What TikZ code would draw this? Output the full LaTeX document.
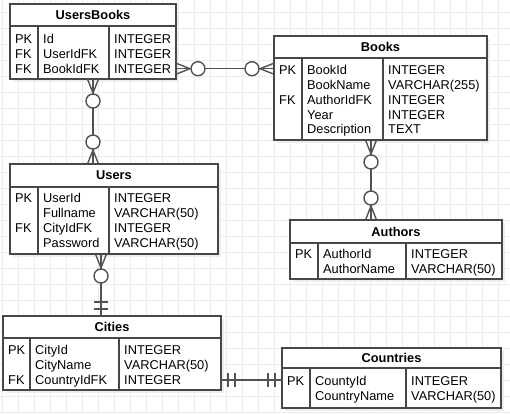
\documentclass[tikz,border=0pt]{standalone}
\usepackage{fontspec}
\setmainfont{Liberation Sans}
\usetikzlibrary{calc}

\colorlet{tblborder}{black!72}
\colorlet{gridgray}{black!8}
\colorlet{shadowgray}{black!7}

% one column of a table, one node per row
\newcommand{\fieldrows}[4]{%
  \foreach \txt [count=\i] in {#4}
    \node[cell] (#1\i) at (#2,{#3+14.9*(\i-1)}) {\txt};%
}

\tikzset{
  crowzero/.pic={
    \draw[conn] (0,-5.5) -- (14,0) -- (0,5.5);
    \draw[conn, fill=white] (22,0) circle (7);
  },
  crowbar/.pic={
    \draw[conn] (7,-7) -- (7,7) (14,-7) -- (14,7);
  }
}

\begin{document}
\begin{tikzpicture}[x=1pt,y=-1pt,
    tbl/.style={draw=tblborder, line width=1.2pt, fill=white, anchor=north west,
      inner sep=0pt, outer sep=0pt,
      preaction={fill=shadowgray, transform canvas={shift={(3pt,-3pt)}}}},
    hdr/.style={tbl, font=\fontsize{12.8}{14.9}\selectfont\bfseries},
    divider/.style={draw=tblborder, line width=1.2pt},
    cell/.style={anchor=base west, inner sep=0pt, font=\fontsize{12.8}{14.9}\selectfont},
    conn/.style={draw=black!68, line width=1.4pt},
    gridline/.style={draw=gridgray, line width=0.8pt}]

    \useasboundingbox (0,0) rectangle (510,413);

    % background grid
    \foreach \gx in {2.3,18.3,...,510}
        \draw[gridline] (\gx,0) -- (\gx,413);
    \foreach \gy in {12.3,28.3,...,413}
        \draw[gridline] (0,\gy) -- (510,\gy);

    % UsersBooks
    \node[hdr, minimum width=166, minimum height=22] (ubh) at (10,4) {UsersBooks};
    \node[tbl, minimum width=166, minimum height=53] (ub) at (ubh.south west) {};
    \draw[divider] (ub.north west) ++(28,0) -- ++(0,53);
    \draw[divider] (ub.north west) ++(99,0) -- ++(0,53);
    \fieldrows{ubk}{15}{43.3}{PK,FK,FK}
    \fieldrows{ubn}{43}{43.3}{Id,UserIdFK,BookIdFK}
    \fieldrows{ubt}{114}{43.3}{INTEGER,INTEGER,INTEGER}

    % Books
    \node[hdr, minimum width=213, minimum height=22] (bkh) at (274,36) {Books};
    \node[tbl, minimum width=213, minimum height=82] (bk) at (bkh.south west) {};
    \draw[divider] (bk.north west) ++(28,0) -- ++(0,82);
    \draw[divider] (bk.north west) ++(109,0) -- ++(0,82);
    \fieldrows{bkk}{279}{74.3}{PK,{},FK}
    \fieldrows{bkn}{307}{74.3}{BookId,BookName,AuthorIdFK,Year,Description}
    \fieldrows{bkt}{388}{74.3}{INTEGER,VARCHAR(255),INTEGER,INTEGER,TEXT}

    % Users
    \node[hdr, minimum width=208, minimum height=23] (ush) at (10,164) {Users};
    \node[tbl, minimum width=208, minimum height=67] (us) at (ush.south west) {};
    \draw[divider] (us.north west) ++(28,0) -- ++(0,67);
    \draw[divider] (us.north west) ++(99,0) -- ++(0,67);
    \fieldrows{usk}{15}{202.3}{PK,{},FK}
    \fieldrows{usn}{43}{202.3}{UserId,Fullname,CityIdFK,Password}
    \fieldrows{ust}{114}{202.3}{INTEGER,VARCHAR(50),INTEGER,VARCHAR(50)}

    % Authors
    \node[hdr, minimum width=212, minimum height=23] (auh) at (290,220) {Authors};
    \node[tbl, minimum width=212, minimum height=36] (au) at (auh.south west) {};
    \draw[divider] (au.north west) ++(28,0) -- ++(0,36);
    \draw[divider] (au.north west) ++(116,0) -- ++(0,36);
    \fieldrows{auk}{295}{258.7}{PK}
    \fieldrows{aun}{323}{258.7}{AuthorId,AuthorName}
    \fieldrows{aut}{411}{258.7}{INTEGER,VARCHAR(50)}

    % Cities
    \node[hdr, minimum width=218, minimum height=22] (cth) at (3,316) {Cities};
    \node[tbl, minimum width=218, minimum height=52] (ct) at (cth.south west) {};
    \draw[divider] (ct.north west) ++(27,0) -- ++(0,52);
    \draw[divider] (ct.north west) ++(116,0) -- ++(0,52);
    \fieldrows{ctk}{8}{354.7}{PK,{},FK}
    \fieldrows{ctn}{35}{354.7}{CityId,CityName,CountryIdFK}
    \fieldrows{ctt}{124}{354.7}{INTEGER,VARCHAR(50),INTEGER}

    % Countries
    \node[hdr, minimum width=219, minimum height=20] (coh) at (282,348) {Countries};
    \node[tbl, minimum width=219, minimum height=40] (co) at (coh.south west) {};
    \draw[divider] (co.north west) ++(28,0) -- ++(0,40);
    \draw[divider] (co.north west) ++(124,0) -- ++(0,40);
    \fieldrows{cok}{287}{385.7}{PK}
    \fieldrows{con}{315}{385.7}{CountyId,CountryName}
    \fieldrows{cot}{411}{385.7}{INTEGER,VARCHAR(50)}

    % relations
    \coordinate (ubbk) at (ub.east |- ubk3);
    \coordinate (bkub) at (ubbk -| bk.west);
    \draw[conn] (ubbk) -- (bkub);
    \pic at (ubbk) {crowzero};
    \pic[rotate=180] at (bkub) {crowzero};

    \coordinate (ubus) at (ub.south);
    \coordinate (usub) at (ubus |- ush.north);
    \draw[conn] (ubus) -- (usub);
    \pic[rotate=-90] at (ubus) {crowzero};
    \pic[rotate=90] at (usub) {crowzero};

    \coordinate (bkau) at ($(bk.south west)+(97,0)$);
    \coordinate (aubk) at (bkau |- auh.north);
    \draw[conn] (bkau) -- (aubk);
    \pic[rotate=-90] at (bkau) {crowzero};
    \pic[rotate=90] at (aubk) {crowzero};

    \coordinate (usct) at ($(us.south west)+(91,0)$);
    \coordinate (ctus) at (usct |- cth.north);
    \draw[conn] (usct) -- (ctus);
    \pic[rotate=-90] at (usct) {crowzero};
    \pic[rotate=90] at (ctus) {crowbar};

    \coordinate (ctco) at (ct.east |- ctk3);
    \coordinate (coct) at (ctco -| co.west);
    \draw[conn] (ctco) -- (coct);
    \pic at (ctco) {crowbar};
    \pic[rotate=180] at (coct) {crowbar};
\end{tikzpicture}
\end{document}
